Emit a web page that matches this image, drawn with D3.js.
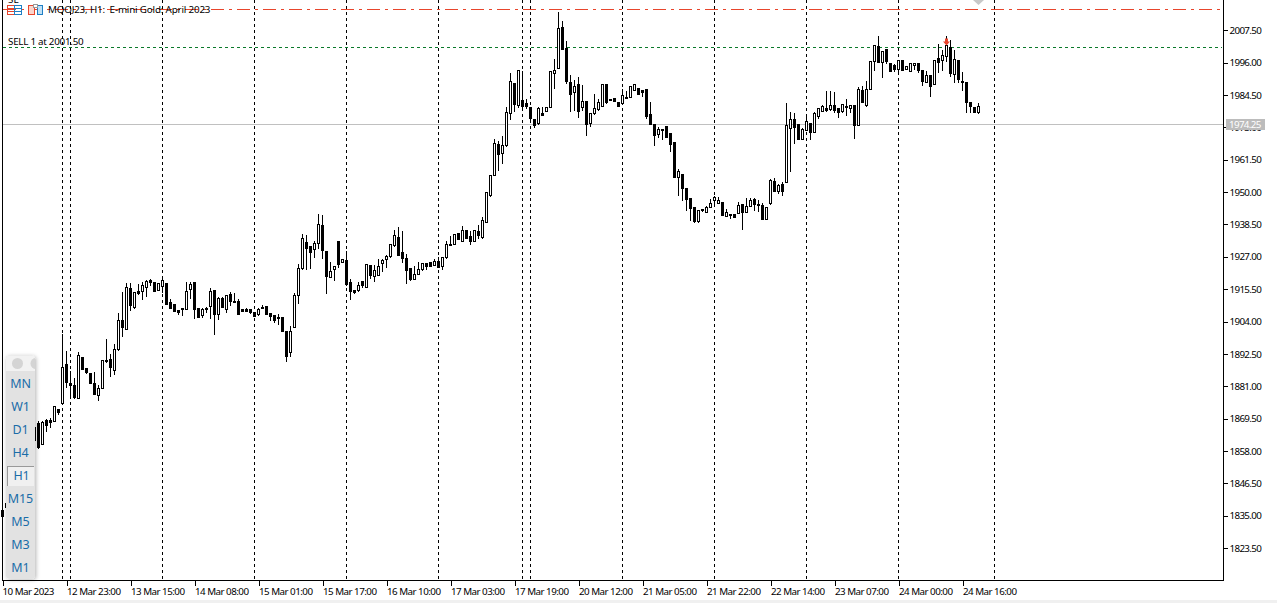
<!DOCTYPE html>
<html><head><meta charset="utf-8">
<script src="https://cdn.jsdelivr.net/npm/d3@7"></script>
<style>
html,body{margin:0;padding:0;background:#fff;overflow:hidden}
svg{display:block}
text{font-family:"Noto Sans",Tahoma,sans-serif;font-size:9.8px;fill:#000}
</style></head><body><div id="c"></div>
<script>
const title = "MQOJ23, H1:  E-mini Gold: April 2023";
const orderLabel = "SELL 1 at 2001.50";
const stopLabel = "SL";
const bidLabel = "1974.25";
const timeframes = ["MN","W1","D1","H4","H1","M15","M5","M3","M1"];
const priceTicks = [2007.5,1996,1984.5,1973,1961.5,1950,1938.5,1927,1915.5,1904,1892.5,1881,1869.5,1858,1846.5,1835,1823.5];
const timeLabels = ["10 Mar 2023","12 Mar 23:00","13 Mar 15:00","14 Mar 08:00","15 Mar 01:00","15 Mar 17:00","16 Mar 10:00","17 Mar 03:00","17 Mar 19:00","20 Mar 12:00","21 Mar 05:00","21 Mar 22:00","22 Mar 14:00","23 Mar 07:00","24 Mar 00:00","24 Mar 16:00"];
const separatorBars = [15,17,40,63,86,109,130,132,155,178,201,224,248];
const stopLevel = 2015, orderLevel = 2001.5, bidLevel = 1974.25;
const sellBar = 236, sellPrice = 2003.2;

const open = [
1837.0,1838.1,1839.5,1844.1,1848.4,1846.3,1854.1,1858.4,1866.5,1868.0,
1860.5,1869.0,1869.0,1868.7,1872.9,1875.1,1888.9,1882.2,1881.5,1876.9,
1891.4,1887.5,1885.7,1882.2,1877.9,1880.4,1890.4,1890.7,1886.8,1894.3,
1904.6,1901.4,1915.9,1909.2,1914.9,1914.9,1916.3,1918.8,1918.1,1915.2,
1916.7,1917.7,1911.0,1910.3,1908.1,1908.9,1908.5,1915.6,1918.1,1908.8,
1906.4,1908.8,1909.5,1915.2,1906.7,1912.4,1908.5,1913.8,1911.4,1911.3,
1908.5,1908.5,1908.5,1907.4,1906.7,1909.2,1909.5,1907.1,1906.4,1905.7,
1905.6,1900.7,1893.2,1902.1,1913.5,1923.0,1932.3,1930.9,1929.8,1931.9,
1938.3,1929.1,1919.9,1922.7,1932.6,1925.2,1925.9,1918.1,1915.2,1915.2,
1918.4,1916.3,1924.1,1920.2,1920.6,1924.8,1926.2,1927.3,1931.2,1934.1,
1928.7,1926.6,1923.0,1919.1,1920.9,1922.7,1924.8,1925.2,1924.1,1925.5,
1923.7,1926.9,1931.5,1931.6,1935.5,1932.6,1936.5,1934.4,1932.6,1936.2,
1934.1,1939.4,1949.0,1956.1,1967.1,1963.9,1966.8,1978.1,1988.8,1981.0,
1982.8,1981.7,1980.3,1976.0,1974.6,1978.1,1978.8,1980.3,1992.4,1994.1,
2008.7,2001.2,1989.2,1985.6,1988.4,1980.3,1982.4,1974.6,1978.1,1979.6,
1980.6,1988.4,1983.1,1983.5,1982.0,1981.7,1983.7,1983.8,1986.3,1987.0,
1986.3,1986.7,1977.8,1974.2,1970.7,1972.5,1973.5,1971.0,1967.8,1955.4,
1956.5,1951.5,1947.9,1944.7,1939.7,1943.9,1942.9,1944.7,1947.2,1946.2,
1946.5,1941.5,1942.3,1942.2,1942.6,1945.8,1942.9,1945.1,1947.6,1945.8,
1945.4,1940.4,1946.2,1954.0,1950.4,1952.9,1953.6,1972.8,1976.0,1974.2,
1968.9,1972.1,1974.6,1971.4,1977.1,1978.8,1979.9,1979.6,1981.0,1979.9,
1978.8,1980.7,1979.9,1981.0,1973.9,1986.3,1981.0,1986.7,1996.6,2002.0,
1996.3,2000.9,1995.9,1995.2,1993.8,1997.0,1993.8,1993.1,1995.2,1995.9,
1993.4,1989.2,1991.6,1988.4,1997.7,1997.0,1998.4,2001.6,1992.0,1997.0,
1989.5,1989.2,1982.0,1980.3,1978.5];

const high = [
1838.1,1841.3,1844.8,1849.0,1849.5,1855.0,1859.0,1862.5,1867.3,1869.0,
1869.0,1869.7,1870.1,1874.0,1872.9,1900.0,1893.9,1886.8,1884.3,1893.6,
1891.4,1887.9,1885.7,1886.4,1881.8,1890.4,1898.2,1892.8,1896.4,1907.4,
1914.9,1918.1,1918.1,1914.9,1917.7,1918.4,1919.1,1919.5,1918.1,1917.7,
1919.5,1917.7,1912.4,1910.3,1908.1,1908.9,1918.4,1918.4,1918.1,1909.2,
1909.2,1909.5,1916.3,1915.2,1913.1,1913.1,1913.8,1914.9,1914.5,1912.4,
1908.5,1909.2,1908.8,1907.4,1909.2,1910.3,1909.5,1907.1,1906.4,1907.1,
1906.0,1900.7,1902.8,1914.5,1924.8,1935.5,1935.1,1931.2,1933.0,1942.6,
1942.2,1929.4,1925.5,1923.7,1932.6,1926.6,1929.4,1919.5,1915.6,1918.4,
1918.4,1924.5,1924.1,1924.5,1926.6,1926.6,1928.0,1931.6,1936.9,1937.9,
1936.5,1928.4,1923.0,1924.1,1925.5,1924.8,1924.8,1925.2,1926.6,1927.3,
1926.9,1933.0,1934.8,1935.1,1935.5,1938.3,1936.9,1936.5,1936.9,1938.7,
1941.5,1950.4,1956.1,1969.3,1968.5,1970.3,1980.6,1992.7,1989.2,1993.4,
1993.4,1983.5,1980.3,1976.0,1980.6,1980.6,1980.3,1993.1,1997.7,2014.4,
2011.2,2004.1,1992.0,1990.2,1991.3,1988.4,1982.4,1978.1,1985.2,1983.5,
1988.4,1988.8,1983.1,1983.8,1982.0,1987.0,1986.3,1987.7,1988.4,1987.0,
1986.3,1986.7,1982.4,1974.2,1973.5,1972.8,1973.5,1971.0,1967.8,1958.6,
1956.5,1951.5,1948.3,1944.7,1944.0,1944.3,1945.4,1947.9,1949.0,1948.6,
1946.5,1944.3,1942.6,1942.2,1946.9,1945.8,1948.3,1948.3,1948.3,1947.6,
1946.5,1944.7,1955.0,1955.4,1953.3,1954.0,1982.0,1978.8,1978.5,1974.2,
1973.2,1977.8,1974.6,1978.8,1979.9,1981.3,1986.3,1986.3,1986.0,1979.9,
1981.3,1983.5,1981.3,1981.0,1987.7,1988.1,1989.9,1996.6,2002.3,2005.9,
2000.2,2000.9,1995.9,1995.9,1997.0,1997.0,1994.8,1995.9,1995.9,1995.9,
1993.4,1993.4,1991.6,1997.0,2003.0,2000.9,2005.9,2004.4,2000.9,1997.0,
1993.1,1989.2,1982.0,1980.3,1982.0];

const low = [
1834.2,1837.0,1839.1,1843.5,1845.5,1845.5,1853.5,1857.5,1859.1,1859.1,
1860.5,1865.1,1866.5,1868.7,1871.2,1875.1,1880.8,1877.2,1876.9,1876.9,
1887.2,1885.7,1882.2,1878.3,1876.1,1880.4,1889.6,1884.7,1885.4,1893.9,
1898.9,1901.4,1908.1,1908.8,1913.8,1912.0,1913.1,1917.0,1914.9,1915.2,
1914.5,1910.3,1908.8,1907.8,1906.7,1906.4,1908.5,1912.4,1905.3,1905.6,
1905.6,1907.4,1905.3,1899.6,1904.9,1909.2,1907.4,1909.9,1911.0,1906.7,
1907.8,1907.8,1907.1,1906.0,1906.4,1908.8,1906.7,1904.6,1903.9,1903.2,
1900.7,1890.0,1891.8,1902.1,1910.6,1922.7,1922.7,1923.0,1926.9,1930.1,
1926.6,1914.2,1919.9,1918.8,1923.4,1925.2,1917.0,1912.0,1914.2,1914.9,
1916.3,1916.3,1919.5,1918.4,1920.6,1922.0,1923.4,1926.9,1930.9,1927.6,
1925.2,1917.7,1918.8,1919.1,1920.9,1922.3,1922.7,1923.7,1924.1,1923.4,
1922.7,1926.6,1931.4,1931.6,1933.4,1932.6,1933.7,1931.6,1932.6,1933.7,
1933.7,1939.4,1948.5,1956.1,1957.9,1960.4,1966.4,1976.0,1978.8,1980.3,
1979.9,1979.9,1975.3,1973.2,1974.2,1977.4,1978.8,1980.3,1987.0,1994.1,
2000.9,1988.8,1978.8,1979.2,1976.7,1979.2,1970.3,1973.5,1977.8,1979.2,
1980.6,1981.7,1982.8,1982.4,1980.6,1981.3,1983.5,1983.8,1986.3,1984.9,
1984.2,1976.4,1974.2,1966.8,1969.6,1968.9,1969.6,1964.6,1955.4,1949.0,
1947.2,1943.6,1940.1,1939.4,1939.4,1943.3,1942.9,1944.7,1946.2,1946.2,
1941.9,1941.5,1940.8,1941.1,1942.6,1936.9,1942.9,1945.1,1943.6,1943.3,
1940.4,1940.4,1945.8,1950.4,1949.7,1949.0,1953.6,1957.5,1967.5,1968.9,
1968.9,1972.1,1968.9,1971.4,1976.4,1978.8,1978.8,1979.2,1978.5,1976.7,
1978.5,1977.4,1978.5,1969.3,1973.9,1982.0,1980.6,1986.7,1993.4,1996.3,
1990.9,1995.9,1993.1,1993.1,1992.4,1993.4,1993.8,1993.1,1993.8,1992.7,
1988.1,1989.2,1984.2,1988.4,1992.7,1993.4,1996.6,1991.3,1989.2,1989.2,
1986.3,1978.5,1978.5,1978.5,1978.1];

const close = [
1834.9,1839.5,1844.1,1848.4,1846.3,1854.1,1858.4,1861.9,1861.9,1859.4,
1868.3,1867.3,1868.3,1874.0,1871.9,1887.9,1882.5,1881.5,1877.2,1892.1,
1887.2,1886.1,1882.2,1878.3,1880.4,1890.4,1890.0,1887.9,1894.3,1904.6,
1902.1,1916.3,1909.9,1914.5,1914.2,1917.0,1918.4,1918.1,1914.9,1917.7,
1918.8,1910.3,1908.8,1907.8,1907.4,1908.7,1914.9,1917.4,1908.5,1905.6,
1908.5,1908.5,1914.9,1906.7,1912.4,1909.2,1913.5,1911.3,1911.2,1906.7,
1907.8,1907.8,1907.4,1906.0,1908.5,1909.0,1906.7,1906.0,1904.6,1905.5,
1900.7,1891.8,1900.7,1913.5,1923.0,1933.7,1930.1,1928.7,1931.9,1938.7,
1929.4,1920.2,1922.0,1923.7,1924.5,1926.2,1917.4,1914.9,1914.5,1917.0,
1917.0,1924.5,1920.6,1922.3,1923.7,1925.9,1927.3,1931.6,1934.8,1927.6,
1926.6,1922.3,1919.1,1920.9,1922.7,1924.8,1923.7,1923.7,1925.5,1923.4,
1926.9,1931.6,1931.6,1935.1,1933.4,1936.5,1933.7,1932.6,1936.5,1934.8,
1940.1,1950.1,1956.1,1967.5,1963.6,1966.8,1978.5,1989.5,1981.3,1993.4,
1980.6,1980.6,1976.4,1973.9,1979.9,1977.4,1980.3,1993.1,1993.4,2008.3,
2000.9,1989.5,1984.9,1987.7,1978.8,1982.4,1974.2,1978.1,1979.9,1982.0,
1988.4,1982.0,1982.8,1982.4,1980.6,1984.5,1983.8,1987.7,1988.4,1984.9,
1985.6,1977.1,1974.2,1970.3,1972.5,1972.3,1969.6,1967.1,1955.4,1957.5,
1951.5,1947.6,1944.3,1939.7,1943.6,1944.1,1944.7,1946.2,1948.3,1947.2,
1941.9,1942.9,1942.1,1941.1,1945.4,1942.9,1945.1,1947.2,1945.8,1945.4,
1940.4,1944.7,1954.3,1950.4,1952.5,1950.4,1973.9,1976.0,1973.2,1968.9,
1972.5,1975.3,1971.4,1978.1,1979.9,1980.6,1979.2,1981.0,1979.2,1978.5,
1981.3,1980.5,1981.0,1973.9,1986.7,1982.0,1986.7,1996.6,2002.3,1996.3,
2000.2,1996.6,1993.1,1993.8,1997.0,1993.4,1994.8,1995.9,1995.9,1993.4,
1989.5,1991.6,1987.7,1997.0,1996.3,1998.8,2002.3,1992.4,1997.3,1990.2,
1989.2,1982.0,1980.6,1978.5,1980.6];

const W = 1277, H = 603, axisX = 1223, axisY = 580, plotLeft = 2;
const svg = d3.select("#c").append("svg").attr("width",W).attr("height",H);
svg.append("rect").attr("width",W).attr("height",H).attr("fill","#fff");
svg.append("rect").attr("y",600).attr("width",W).attr("height",3).attr("fill","#f0f0f0");

const x = d3.scaleLinear().domain([0,16]).range([2.5,66.5]);
const y = d3.scaleLinear().domain([2007.5,1823.5]).range([30.3,548]);
const px = v => Math.round(v)+0.5;

const clipped = svg.append("g");

// separators
clipped.append("g").selectAll("line").data(separatorBars).join("line")
  .attr("x1",d=>x(d)).attr("x2",d=>x(d)).attr("y1",0).attr("y2",axisY)
  .attr("stroke","#000").attr("stroke-dasharray","3,3").attr("shape-rendering","crispEdges");

// horizontal levels
const levels = [
 {v:stopLevel, c:"#e8452c", d:"13,5,3,5", x2:axisX-3},
 {v:orderLevel, c:"#0b7a2b", d:"3,3", x2:axisX-1},
 {v:bidLevel, c:"#c0c0c0", d:null, x2:axisX}
];
clipped.append("g").selectAll("line").data(levels).join("line")
  .attr("x1",3).attr("x2",d=>d.x2).attr("y1",d=>px(y(d.v))).attr("y2",d=>px(y(d.v)))
  .attr("stroke",d=>d.c).attr("stroke-dasharray",d=>d.d).attr("shape-rendering","crispEdges");

// candles
const idx = d3.range(open.length);
const cg = clipped.append("g").attr("shape-rendering","crispEdges");
cg.selectAll("line").data(idx).join("line")
  .attr("x1",i=>x(i)).attr("x2",i=>x(i))
  .attr("y1",i=>px(y(high[i]))).attr("y2",i=>px(y(low[i])))
  .attr("stroke","#000");
cg.selectAll("rect").data(idx).join("rect")
  .attr("x",i=>x(i)-1).attr("width",2)
  .attr("y",i=>px(y(Math.max(open[i],close[i]))))
  .attr("height",i=>Math.max(1,px(y(Math.min(open[i],close[i])))-px(y(Math.max(open[i],close[i])))))
  .attr("fill",i=>close[i]>=open[i]?"#fff":"#000")
  .attr("stroke","#000");

// sell arrow
const ax = x(sellBar), ay = y(sellPrice);
clipped.append("path")
  .attr("d",d3.line()([[ax-1.5,ay-4],[ax+1.5,ay-4],[ax+1.5,ay-1],[ax+3.5,ay-1],[ax,ay+3],[ax-3.5,ay-1],[ax-1.5,ay-1]])+"Z")
  .attr("fill","#e8432c");
// SL marker on top
const mx = x(244);
svg.append("path").attr("d",d3.line()([[mx-5.5,0],[mx+5.5,0],[mx,5]])+"Z").attr("fill","#c8c8c8");

// axes
const yAxis = d3.axisRight(y).tickValues(priceTicks).tickSize(4).tickPadding(2).tickFormat(d3.format(".2f"));
const yg = svg.append("g").attr("transform",`translate(${axisX+.5},0)`).call(yAxis);
yg.select(".domain").remove();
yg.selectAll(".tick line").attr("stroke","#000").attr("shape-rendering","crispEdges");
yg.selectAll(".tick text").attr("fill","#000").style("letter-spacing","-0.65px");
const xticks = d3.range(timeLabels.length).map(i=>i*16);
const xAxis = d3.axisBottom(x).tickValues(xticks).tickSize(5).tickPadding(3).tickFormat((d,i)=>timeLabels[i]);
const xg = svg.append("g").attr("transform",`translate(0,${axisY+.5})`).call(xAxis);
xg.select(".domain").remove();
xg.selectAll(".tick line").attr("stroke","#000").attr("shape-rendering","crispEdges");
xg.selectAll(".tick text").attr("text-anchor","start").attr("fill","#000").attr("x",0).style("letter-spacing","-0.52px");
xg.select(".tick text").attr("x",-0.5);

const frame = svg.append("g").attr("stroke","#000").attr("shape-rendering","crispEdges");
frame.append("line").attr("x1",axisX+.5).attr("x2",axisX+.5).attr("y1",0).attr("y2",axisY+1);
frame.append("line").attr("x1",plotLeft+.5).attr("x2",plotLeft+.5).attr("y1",0).attr("y2",axisY+1);
frame.append("line").attr("x1",plotLeft).attr("x2",axisX+1).attr("y1",axisY+.5).attr("y2",axisY+.5);

// bid tag
svg.append("rect").attr("x",1226).attr("y",119).attr("width",39).attr("height",11).attr("fill","#bcbcbc");
svg.append("text").attr("x",1229).attr("y",128).attr("style","fill:#fff;letter-spacing:-0.65px").text(bidLabel);

// labels
svg.append("text").attr("x",8).attr("y",3).text(stopLabel);
svg.append("text").attr("x",8).attr("y",45).attr("style","letter-spacing:-0.25px").text(orderLabel);
svg.append("text").attr("x",48).attr("y",13).attr("xml:space","preserve").style("white-space","pre").style("letter-spacing","-0.17px").text(title);

// toolbar icons
const ic = svg.append("g").attr("shape-rendering","crispEdges").attr("fill","none");
ic.append("rect").attr("x",7.5).attr("y",5.5).attr("width",7).attr("height",9).attr("stroke","#e8452c");
ic.append("rect").attr("x",14.5).attr("y",5.5).attr("width",7).attr("height",9).attr("stroke","#1f7fc4");
[8,11].forEach(v=>{
  ic.append("line").attr("x1",8).attr("x2",14).attr("y1",v+.5).attr("y2",v+.5).attr("stroke","#e8452c");
  ic.append("line").attr("x1",15).attr("x2",21).attr("y1",v+.5).attr("y2",v+.5).attr("stroke","#1f7fc4");
});
ic.append("rect").attr("x",28.5).attr("y",5.5).attr("width",6).attr("height",9).attr("stroke","#e8452c").attr("fill","#fbd5cc");
ic.append("rect").attr("x",37.5).attr("y",5.5).attr("width",5).attr("height",9).attr("stroke","#1f7fc4").attr("fill","#bfe0f5");
ic.append("rect").attr("x",33.5).attr("y",4.5).attr("width",4).attr("height",3).attr("stroke","#999").attr("fill","#fff");

// timeframe panel
const defs = svg.append("defs");
const f = defs.append("filter").attr("id","sh").attr("x","-30%").attr("y","-10%").attr("width","160%").attr("height","120%");
f.append("feDropShadow").attr("dx",1).attr("dy",1).attr("stdDeviation",2).attr("flood-color","#000").attr("flood-opacity",.3);
const cp = defs.append("clipPath").attr("id","pc");
cp.append("rect").attr("x",6).attr("y",355.5).attr("width",29).attr("height",223).attr("rx",3);
svg.append("rect").attr("x",6).attr("y",355.5).attr("width",29).attr("height",223).attr("rx",3).attr("fill","#e2e2e2").attr("filter","url(#sh)");
const pg = svg.append("g").attr("clip-path","url(#pc)");
pg.append("rect").attr("x",6).attr("y",355.5).attr("width",29).attr("height",15.5).attr("fill","#f2f2f2");
pg.append("circle").attr("cx",17.5).attr("cy",363.5).attr("r",5.5).attr("fill","#d4d4d4");
pg.append("circle").attr("cx",36).attr("cy",363.5).attr("r",5.5).attr("fill","#d4d4d4");
const fy = d3.scalePoint().domain(timeframes).range([384,568]);
svg.append("rect").attr("x",7).attr("y",466).attr("width",27).attr("height",20).attr("fill","#f0f0f0");
const hb = svg.append("g").attr("stroke","#999").attr("shape-rendering","crispEdges");
hb.append("line").attr("x1",7.5).attr("x2",7.5).attr("y1",466).attr("y2",486);
hb.append("line").attr("x1",7).attr("x2",34).attr("y1",466.5).attr("y2",466.5);
svg.append("g").selectAll("text").data(timeframes).join("text")
  .attr("x",d=>d==="H1"?21.5:20.5).attr("y",d=>fy(d)-0.5).attr("dy","0.36em")
  .attr("text-anchor","middle").attr("style","font-size:12.5px;fill:#1a6ca8;letter-spacing:-0.1px").text(d=>d);
</script></body></html>
